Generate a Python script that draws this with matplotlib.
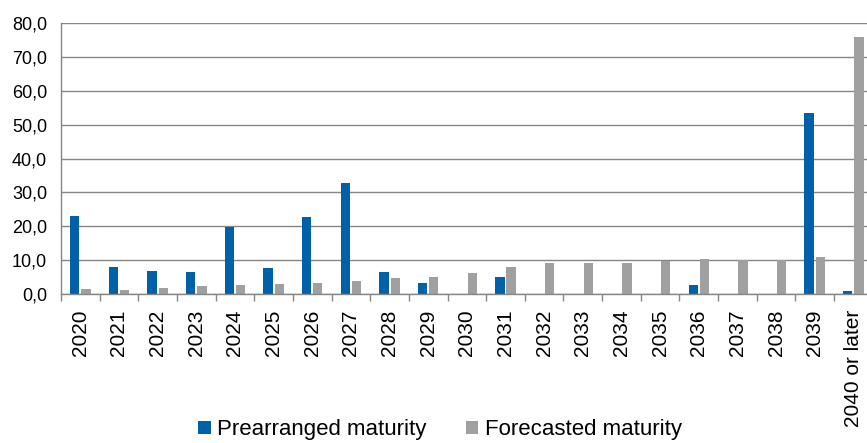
import numpy as np
import matplotlib.pyplot as plt
from matplotlib.patches import Patch
from matplotlib.ticker import MultipleLocator, FuncFormatter

# ── data ──────────────────────────────────────────────────────────────────────
years = ['2020', '2021', '2022', '2023', '2024', '2025', '2026', '2027', '2028',
         '2029', '2030', '2031', '2032', '2033', '2034', '2035', '2036', '2037',
         '2038', '2039', '2040 or later']
prearranged = [23.2, 8.1, 6.9, 6.6, 19.7, 7.6, 22.7, 32.7, 6.5, 3.4, 0.0, 5.1,
               0.0, 0.0, 0.0, 0.0, 2.8, 0.0, 0.0, 53.3, 1.1]
forecasted = [1.6, 1.3, 1.9, 2.3, 2.7, 3.1, 3.4, 4.0, 4.8, 5.2, 6.3, 8.1,
              9.1, 9.2, 9.2, 9.7, 10.4, 10.2, 10.2, 11.1, 75.9]

BLUE = '#0060A8'
GREY = '#A0A0A0'
AXIS_GREY = '#868686'

# ── figure ────────────────────────────────────────────────────────────────────
fig = plt.figure(figsize=(8.67, 4.43), dpi=100)
# plot area runs a little past the right edge, like the original crop
ax = fig.add_axes([61 / 867, 1 - 294.3 / 443, 811.7 / 867, 271.6 / 443])

x = np.arange(len(years))
w = 0.24
ax.bar(x - 0.145, prearranged, w, color=BLUE, linewidth=0, zorder=3)
ax.bar(x + 0.145, forecasted, w, color=GREY, linewidth=0, zorder=3)

ax.set_xlim(-0.5, len(years) - 0.5)
ax.set_ylim(0, 80)
ax.yaxis.set_major_locator(MultipleLocator(10))
ax.yaxis.set_major_formatter(FuncFormatter(lambda v, p: f'{v:.1f}'.replace('.', ',')))
ax.grid(axis='y', color=AXIS_GREY, linewidth=1.0, zorder=0)

ax.set_xticks(x)
ax.set_xticklabels(years, rotation=90, fontsize=15, family='Liberation Sans')
ax.set_xticks(np.arange(len(years) + 1) - 0.5, minor=True)
ax.tick_params(axis='x', which='major', length=0, pad=11)
ax.tick_params(axis='x', which='minor', length=5, width=1, color=AXIS_GREY)
ax.tick_params(axis='y', length=0, pad=10, labelsize=13)
for lbl in ax.get_yticklabels():
    lbl.set_family('Liberation Sans')

for s in ['top', 'right']:
    ax.spines[s].set_visible(False)
for s in ['left', 'bottom']:
    ax.spines[s].set_color(AXIS_GREY)
    ax.spines[s].set_linewidth(1.0)
    ax.spines[s].set_zorder(4)

handles = [Patch(facecolor=BLUE, label='Prearranged maturity'),
           Patch(facecolor=GREY, label='Forecasted maturity')]
fig.legend(handles=handles, loc='center', bbox_to_anchor=(440 / 867, 1 - 430 / 443),
           ncol=2, frameon=False, prop={'family': 'Liberation Sans', 'size': 16},
           handlelength=0.55, handleheight=0.55, handletextpad=0.3,
           columnspacing=1.75, borderpad=0)

plt.savefig('out.png', dpi=100)
